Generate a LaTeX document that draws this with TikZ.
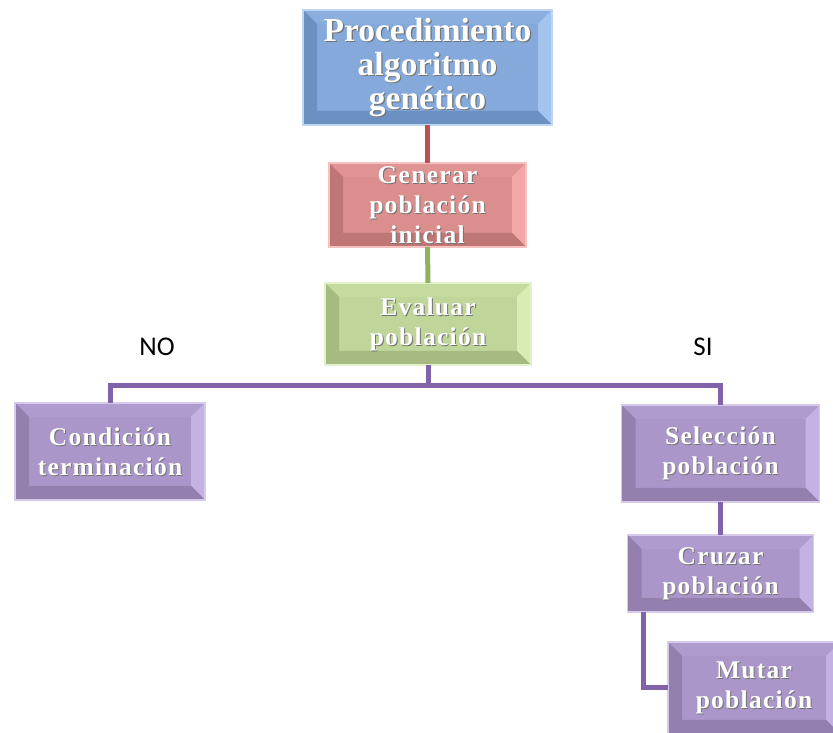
\documentclass[tikz,border=0pt]{standalone}
\usepackage{fontspec}
\setmainfont{Liberation Serif}
\newfontfamily\labelfont{Carlito}
\begin{document}
% palettes: mid, light, dark
\definecolor{blueMid}{HTML}{84A9DA}
\definecolor{blueLt}{HTML}{A3C4EE}
\definecolor{blueDk}{HTML}{6C90C2}
\definecolor{redMid}{HTML}{DA8F8E}
\definecolor{redLt}{HTML}{F2A8A6}
\definecolor{redDk}{HTML}{BF7776}
\definecolor{greenMid}{HTML}{C0D59A}
\definecolor{greenLt}{HTML}{D9ECB3}
\definecolor{greenDk}{HTML}{A6BA82}
\definecolor{purpMid}{HTML}{AA96C9}
\definecolor{purpLt}{HTML}{C4B2E4}
\definecolor{purpDk}{HTML}{9380AF}
\definecolor{lnRed}{HTML}{C0504D}
\definecolor{lnGreen}{HTML}{8EB35B}
\definecolor{lnPurp}{HTML}{8063A8}
\newcommand\bevelfaces[3]{%
  \fill[#1] (path picture bounding box.north west) -- (path picture bounding box.north east)
    -- ([xshift=-14pt,yshift=-14pt]path picture bounding box.north east)
    -- ([xshift=14pt,yshift=-14pt]path picture bounding box.north west) -- cycle;
  \fill[#2] (path picture bounding box.north east) -- (path picture bounding box.south east)
    -- ([xshift=-14pt,yshift=14pt]path picture bounding box.south east)
    -- ([xshift=-14pt,yshift=-14pt]path picture bounding box.north east) -- cycle;
  \fill[#3] (path picture bounding box.south west) -- (path picture bounding box.south east)
    -- ([xshift=-14pt,yshift=14pt]path picture bounding box.south east)
    -- ([xshift=14pt,yshift=14pt]path picture bounding box.south west) -- cycle;
  \fill[#3] (path picture bounding box.north west) -- (path picture bounding box.south west)
    -- ([xshift=14pt,yshift=14pt]path picture bounding box.south west)
    -- ([xshift=14pt,yshift=-14pt]path picture bounding box.north west) -- cycle;
}
\begin{tikzpicture}[x=1pt,y=1pt,
  box/.style={rectangle, inner sep=0pt, outer sep=0pt, line width=1.2pt},
  bluebox/.style={box, fill=blueMid, draw=blueLt!70!white,
    path picture={\bevelfaces{blueMid!80!blueLt}{blueLt}{blueDk}}},
  redbox/.style={box, fill=redMid, draw=redLt!70!white,
    path picture={\bevelfaces{redMid!80!redLt}{redLt}{redDk}}},
  greenbox/.style={box, fill=greenMid, draw=greenLt!70!white,
    path picture={\bevelfaces{greenMid!80!greenLt}{greenLt}{greenDk}}},
  purpbox/.style={box, fill=purpMid, draw=purpLt!70!white,
    path picture={\bevelfaces{purpMid!80!purpLt}{purpLt}{purpDk}}},
  bigtxt/.style={align=center, inner sep=0pt, font=\fontsize{33.5}{34}\selectfont\bfseries},
  smalltxt/.style={align=center, inner sep=0pt,
    font=\fontsize{25.5}{30}\selectfont\bfseries\addfontfeature{LetterSpace=5}},
  shade/.style={text=black!55},
  front/.style={text=white},
  conn/.style={line width=5pt},
  answer/.style={font=\labelfont\fontsize{27}{28}\selectfont, text=black, inner sep=0pt}
]
\clip (0,0) rectangle (833,733);
\useasboundingbox (0,0) rectangle (833,733);

% boxes
\node[bluebox, minimum width=249pt, minimum height=115pt] (proc) at (427.5,665.5) {};
\node[redbox, minimum width=197pt, minimum height=84pt] (gen) at (427.5,528) {};
\node[greenbox, minimum width=206pt, minimum height=82pt] (eval) at (428,409) {};
\node[purpbox, minimum width=190pt, minimum height=97pt] (cond) at (110,281.5) {};
\node[purpbox, minimum width=198pt, minimum height=97pt] (sel) at (720.5,279.5) {};
\node[purpbox, minimum width=186pt, minimum height=77pt] (cruz) at (720.5,159.5) {};
\node[purpbox, minimum width=172pt, minimum height=92pt] (mut) at (754,45) {};

% connectors
\draw[conn, lnRed] (proc.south) -- (gen.north);
\draw[conn, lnGreen] (gen.south) -- (eval.north);
\coordinate (bus) at (428,347);
\draw[conn, lnPurp] (eval.south) -- (bus) -| (cond.north);
\draw[conn, lnPurp] (bus) -| (sel.north);
\draw[conn, lnPurp] (sel.south) -- (cruz.north);
\coordinate (cruzleg) at (643,0 |- cruz.south);
\draw[conn, lnPurp] (cruzleg) |- (mut.west);

% box texts: soft shadow then white
\node[bigtxt, shade] (proc-s) at ([shift={(1.2,-1.2)}]proc) {Procedimiento\\algoritmo\\genético};
\node[bigtxt, front] (proc-t) at (proc) {Procedimiento\\algoritmo\\genético};
\node[smalltxt, shade] (gen-s) at ([shift={(1,-1)}]gen) {Generar\\población\\inicial};
\node[smalltxt, front] (gen-t) at (gen) {Generar\\población\\inicial};
\node[smalltxt, shade] (eval-s) at ([shift={(1,-1)}]eval) {Evaluar\\población};
\node[smalltxt, front] (eval-t) at (eval) {Evaluar\\población};
\node[smalltxt, shade] (cond-s) at ([shift={(1,-1)}]cond) {Condición\\terminación};
\node[smalltxt, front] (cond-t) at (cond) {Condición\\terminación};
\node[smalltxt, shade] (sel-s) at ([shift={(1,-1)}]sel) {Selección\\población};
\node[smalltxt, front] (sel-t) at (sel) {Selección\\población};
\node[smalltxt, shade] (cruz-s) at ([shift={(1,-1)}]cruz) {Cruzar\\población};
\node[smalltxt, front] (cruz-t) at (cruz) {Cruzar\\población};
\node[smalltxt, shade] (mut-s) at ([shift={(1,-1)}]mut) {Mutar\\población};
\node[smalltxt, front] (mut-t) at (mut) {Mutar\\población};

% branch labels
\node[answer] (no) at (157,386) {NO};
\node[answer] (si) at (703,386) {SI};
\end{tikzpicture}
\end{document}
